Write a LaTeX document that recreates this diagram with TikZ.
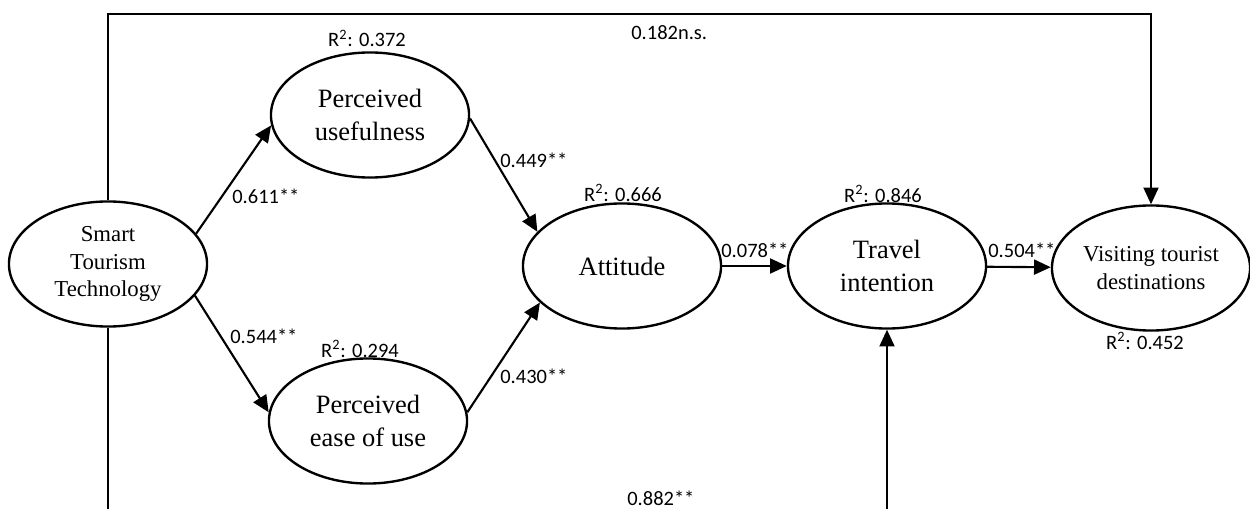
\documentclass[tikz,border=0pt]{standalone}
\usepackage{fontspec}
\setmainfont{Liberation Serif}
\newfontfamily\labfont{Carlito}
\usetikzlibrary{shapes.geometric,arrows.meta}
\begin{document}
\begin{tikzpicture}[x=0.5669pt,y=-0.5669pt,
  latent/.style={draw,ellipse,line width=1.35pt,inner sep=0pt,align=center,
                 minimum width=112.3pt,minimum height=70.9pt},
  bigtxt/.style={font=\fontsize{15}{18.5}\selectfont},
  smalltxt/.style={font=\fontsize{12.9}{15.8}\selectfont},
  coef/.style={font=\labfont\fontsize{11.6}{14}\selectfont,inner sep=0pt,anchor=base west},
  rsq/.style={font=\labfont\fontsize{11.6}{14}\selectfont,inner sep=0pt,anchor=base},
  effect/.style={line width=1.2pt,-{Triangle[length=9.5pt,width=8.5pt]}},
  thinline/.style={line width=0.6pt}]
\useasboundingbox (0,0) rectangle (1250,509);
\fill[white] (0,0) rectangle (1250,509);
\clip (0,0) rectangle (1250,509);

% latent constructs
\node[latent,smalltxt] (stt) at (108,264) {Smart\\Tourism\\Technology};
\node[latent,bigtxt] (pu) at (370,115) {Perceived\\usefulness};
\node[latent,bigtxt] (pe) at (368,421) {Perceived\\ease of use};
\node[latent,bigtxt] (att) at (622,266) {Attitude};
\node[latent,bigtxt] (ti) at (887,266) {Travel\\intention};
\node[latent,smalltxt] (vis) at (1151,268) {Visiting tourist\\destinations};

% R-squared labels
\node[rsq] (r1) at (367,47) {R\textsuperscript{2}: 0.372};
\node[rsq] (r2) at (360,357) {R\textsuperscript{2}: 0.294};
\node[rsq] (r3) at (623,201) {R\textsuperscript{2}: 0.666};
\node[rsq] (r4) at (883,202) {R\textsuperscript{2}: 0.846};
\node[rsq] (r5) at (1145,349) {R\textsuperscript{2}: 0.452};

% paths
\draw[effect] (stt.19) -- (pu.186);
\draw[effect] (stt.-20) -- (pe.175);
\draw[effect] (pu.-2) -- (att.158);
\draw[effect] (pe.5) -- (att.204);
\draw[effect] (att.east) -- (ti.west);
\draw[effect] (ti) -- (vis);

\coordinate (tp) at (630,14);
\draw[thinline] (stt.north) |- (tp);
\draw[effect] (tp) -| (vis.north);

\coordinate (bt) at (0,525);
\coordinate (bl) at (stt.south |- bt);
\draw[thinline] (stt.south) -- (bl);
\draw[effect] (bl) -| (ti.south);

% coefficients
\node[coef] (c1) at (232,203) {0.611**};
\node[coef] (c2) at (230,343) {0.544**};
\node[coef] (c3) at (500,167) {0.449**};
\node[coef] (c4) at (500,383) {0.430**};
\node[coef] (c5) at (721,257) {0.078**};
\node[coef] (c6) at (988,257) {0.504**};
\node[coef] (c7) at (631,40) {0.182n.s.};
\node[coef] (c8) at (627,505) {0.882**};
\end{tikzpicture}
\end{document}
